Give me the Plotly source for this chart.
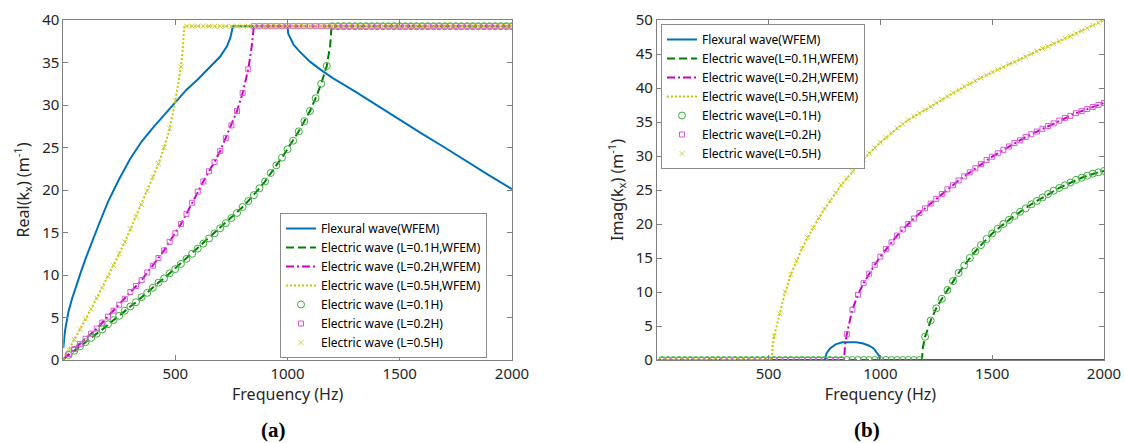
import plotly.graph_objects as go

# ---------------- data ----------------
# Flexural wave (WFEM)
f_flex = [1, 4, 8, 15, 25, 40, 60, 80, 100, 130, 160, 200, 250, 300, 350, 400, 450, 500, 550, 600,
          650, 700, 730, 745, 752, 756, 760, 775, 800, 830, 860, 890, 920, 950, 970, 985, 995, 1000,
          1003, 1015, 1027, 1050, 1100, 1150, 1200, 1300, 1400, 1500, 1600, 1700, 1800, 1900, 2000]
re_flex = [1.4, 2.4, 3.3, 4.4, 5.8, 7.2, 8.9, 10.4, 11.9, 14.0, 16.0, 18.6, 21.3, 23.7, 25.7, 27.3, 28.8, 30.4, 31.8, 33.0,
           34.3, 35.7, 36.9, 37.9, 38.7, 39.27, 39.27, 39.27, 39.27, 39.27, 39.27, 39.27, 39.27, 39.27, 39.27, 39.27, 39.27, 39.27,
           38.4, 37.7, 37.1, 36.4, 35.1, 34.1, 33.2, 31.6, 29.9, 28.3, 26.6, 25.0, 23.3, 21.7, 20.1]
im_flex = [0, 0, 0, 0, 0, 0, 0, 0, 0, 0, 0, 0, 0, 0, 0, 0, 0, 0, 0, 0,
           0, 0, 0, 0, 0, 0.6, 1.0, 1.7, 2.3, 2.6, 2.65, 2.6, 2.45, 2.1, 1.7, 1.1, 0.6, 0.0,
           0, 0, 0, 0, 0, 0, 0, 0, 0, 0, 0, 0, 0, 0, 0]

# frequency grid of the analytic results (markers)
f_mark = [25, 50, 75, 100, 125, 150, 175, 200, 225, 250, 275, 300, 325, 350, 375, 400, 425, 450, 475, 500,
          525, 550, 575, 600, 625, 650, 675, 700, 725, 750, 775, 800, 825, 850, 875, 900, 925, 950, 975, 1000,
          1025, 1050, 1075, 1100, 1125, 1150, 1175, 1200, 1225, 1250, 1275, 1300, 1325, 1350, 1375, 1400, 1425, 1450, 1475, 1500,
          1525, 1550, 1575, 1600, 1625, 1650, 1675, 1700, 1725, 1750, 1775, 1800, 1825, 1850, 1875, 1900, 1925, 1950, 1975, 2000]

P = 39.27  # Brillouin-zone edge value
# L = 0.1H
re_01 = [0.6, 1.1, 1.6, 2.1, 2.6, 3.1, 3.6, 4.2, 4.7, 5.2, 5.8, 6.3, 6.8, 7.4, 7.9, 8.5, 9.1, 9.6, 10.2, 10.7,
         11.3, 11.9, 12.5, 13.1, 13.7, 14.3, 14.9, 15.5, 16.1, 16.7, 17.3, 18.0, 18.7, 19.4, 20.2, 21.0, 22.0, 22.9, 23.8, 24.8,
         25.8, 26.9, 28.1, 29.3, 30.8, 32.5, 34.6, P, P, P, P, P, P, P, P, P, P, P, P, P,
         P, P, P, P, P, P, P, P, P, P, P, P, P, P, P, P, P, P, P, P]
im_01 = [0, 0, 0, 0, 0, 0, 0, 0, 0, 0, 0, 0, 0, 0, 0, 0, 0, 0, 0, 0,
         0, 0, 0, 0, 0, 0, 0, 0, 0, 0, 0, 0, 0, 0, 0, 0, 0, 0, 0, 0,
         0, 0, 0, 0, 0, 0, 0, 3.4, 5.8, 7.6, 9.0, 10.3, 11.6, 12.8, 13.9, 15.0, 16.0, 16.9, 17.8, 18.6,
         19.3, 20.0, 20.6, 21.2, 21.8, 22.3, 22.9, 23.4, 23.9, 24.4, 24.9, 25.3, 25.7, 26.1, 26.5, 26.8, 27.1, 27.4, 27.6, 27.8]
# L = 0.2H
re_02 = [0.7, 1.3, 1.9, 2.5, 3.1, 3.7, 4.4, 5.1, 5.8, 6.5, 7.2, 8.0, 8.7, 9.4, 10.3, 11.1, 12.0, 12.9, 13.9, 14.9,
         16.0, 17.2, 18.5, 19.8, 21.0, 22.2, 23.3, 24.6, 26.1, 27.6, 29.3, 31.4, 34.2, P, P, P, P, P, P, P,
         P, P, P, P, P, P, P, P, P, P, P, P, P, P, P, P, P, P, P, P,
         P, P, P, P, P, P, P, P, P, P, P, P, P, P, P, P, P, P, P, P]
im_02 = [0, 0, 0, 0, 0, 0, 0, 0, 0, 0, 0, 0, 0, 0, 0, 0, 0, 0, 0, 0,
         0, 0, 0, 0, 0, 0, 0, 0, 0, 0, 0, 0, 0, 3.8, 7.4, 9.6, 11.3, 12.7, 14.0, 15.2,
         16.3, 17.3, 18.3, 19.2, 20.0, 20.8, 21.6, 22.3, 23.0, 23.7, 24.4, 25.1, 25.7, 26.4, 27.0, 27.6, 28.2, 28.8, 29.4, 29.9,
         30.4, 30.9, 31.4, 31.9, 32.3, 32.8, 33.2, 33.6, 34.0, 34.4, 34.8, 35.2, 35.6, 35.9, 36.3, 36.6, 36.9, 37.2, 37.5, 37.8]
# L = 0.5H
re_05 = [1.2, 2.4, 3.6, 4.8, 6.0, 7.3, 8.5, 9.8, 11.1, 12.5, 13.9, 15.4, 16.9, 18.3, 19.9, 21.5, 23.1, 25.0, 27.2, 30.5,
         34.5, P, P, P, P, P, P, P, P, P, P, P, P, P, P, P, P, P, P, P,
         P, P, P, P, P, P, P, P, P, P, P, P, P, P, P, P, P, P, P, P,
         P, P, P, P, P, P, P, P, P, P, P, P, P, P, P, P, P, P, P, P]
im_05 = [0, 0, 0, 0, 0, 0, 0, 0, 0, 0, 0, 0, 0, 0, 0, 0, 0, 0, 0, 0,
         3.5, 6.8, 10.0, 12.6, 14.6, 16.4, 18.0, 19.5, 20.9, 22.2, 23.4, 24.6, 25.7, 26.7, 27.7, 28.6, 29.5, 30.4, 31.2, 32.0,
         32.7, 33.4, 34.1, 34.7, 35.3, 35.8, 36.3, 36.8, 37.3, 37.8, 38.3, 38.8, 39.3, 39.7, 40.2, 40.6, 41.1, 41.5, 41.9, 42.3,
         42.7, 43.1, 43.5, 43.8, 44.2, 44.6, 45.0, 45.4, 45.8, 46.1, 46.5, 46.9, 47.3, 47.6, 48.0, 48.4, 48.8, 49.2, 49.6, 50.0]

# extra WFEM points (start of curve, cut-off corners)
ex_re_01_f, ex_re_01 = [1, 1190, 1196], [0.1, 37.0, P]
ex_im_01_f, ex_im_01 = [1, 1186, 1190], [0, 0, 1.8]
ex_re_02_f, ex_re_02 = [1, 840, 848], [0.1, 36.8, P]
ex_im_02_f, ex_im_02 = [1, 838, 842], [0, 0, 2.2]
ex_re_05_f, ex_re_05 = [1, 533, 540], [0.1, 36.5, P]
ex_im_05_f, ex_im_05 = [1, 515, 518], [0, 0, 2.0]

names_l = ["Flexural wave(WFEM)", "Electric wave (L=0.1H,WFEM)", "Electric wave (L=0.2H,WFEM)",
           "Electric wave (L=0.5H,WFEM)", "Electric wave (L=0.1H)", "Electric wave (L=0.2H)", "Electric wave (L=0.5H)"]
names_r = ["Flexural wave(WFEM)", "Electric wave(L=0.1H,WFEM)", "Electric wave(L=0.2H,WFEM)",
           "Electric wave(L=0.5H,WFEM)", "Electric wave(L=0.1H)", "Electric wave(L=0.2H)", "Electric wave(L=0.5H)"]


def merge(fa, ya, fb, yb):
    pts = sorted(zip(list(fa) + list(fb), list(ya) + list(yb)))
    return [p[0] for p in pts], [p[1] for p in pts]


# ---------------- styles ----------------
C_FLEX = "#0072BD"
C_G, C_M, C_Y = "#008000", "#C800C8", "#C8C800"
CM_G, CM_M, CM_Y = "#3DAE3D", "#D65AD6", "#CFCF3A"
FONT = "Noto Sans"
AX = "#808080"
TXT = "#262626"

fig = go.Figure()

panels = [
    ("x", "y", "legend", names_l, re_flex, [(re_01, ex_re_01_f, ex_re_01), (re_02, ex_re_02_f, ex_re_02), (re_05, ex_re_05_f, ex_re_05)]),
    ("x2", "y2", "legend2", names_r, im_flex, [(im_01, ex_im_01_f, ex_im_01), (im_02, ex_im_02_f, ex_im_02), (im_05, ex_im_05_f, ex_im_05)]),
]
line_styles = [(C_G, "8px,4px"), (C_M, "8px,3px,2px,3px"), (C_Y, "2px,2px")]
marker_styles = [("circle-open", CM_G, 7), ("square-open", CM_M, 5), ("x-thin-open", CM_Y, 5)]

for xa, ya, lg, names, flex_y, series in panels:
    fig.add_trace(go.Scatter(x=f_flex, y=flex_y, mode="lines", name=names[0], xaxis=xa, yaxis=ya, legend=lg,
                             line=dict(color=C_FLEX, width=2)))
    for i, (vals, exf, exv) in enumerate(series):
        lx, ly = merge(f_mark, vals, exf, exv)
        col, dash = line_styles[i]
        fig.add_trace(go.Scatter(x=lx, y=ly, mode="lines", name=names[1 + i], xaxis=xa, yaxis=ya, legend=lg,
                                 line=dict(color=col, width=2, dash=dash)))
    for i, (vals, exf, exv) in enumerate(series):
        sym, col, sz = marker_styles[i]
        fig.add_trace(go.Scatter(x=f_mark, y=vals, mode="markers", name=names[4 + i], xaxis=xa, yaxis=ya, legend=lg,
                                 marker=dict(symbol=sym, color=col, size=sz, line=dict(color=col, width=1))))

W, H = 1125, 443
ax_common = dict(showline=True, linecolor=AX, linewidth=1, mirror="ticks", ticks="inside", ticklen=5,
                 tickcolor=AX, tickfont=dict(size=15, color=TXT, family=FONT), showgrid=False, zeroline=False,
                 automargin=False)
xdom1 = [63.3 / W, 512 / W]
xdom2 = [656.9 / W, 1104 / W]
ydom = [1 - 360 / H, 1 - 20 / H]

fig.update_layout(
    width=W, height=H, margin=dict(l=0, r=0, t=0, b=0, autoexpand=False),
    paper_bgcolor="white", plot_bgcolor="white",
    font=dict(family=FONT, color=TXT),
    xaxis=dict(domain=xdom1, range=[1, 2000], tickvals=[500, 1000, 1500, 2000], anchor="y",
               title=dict(text="Frequency (Hz)", font=dict(size=16, color=TXT), standoff=6), **ax_common),
    yaxis=dict(domain=ydom, range=[0, 40], tickvals=[0, 5, 10, 15, 20, 25, 30, 35, 40], anchor="x",
               title=dict(text="Real(k<sub>x</sub>) (m<sup>-1</sup>)", font=dict(size=16, color=TXT), standoff=8), **ax_common),
    xaxis2=dict(domain=xdom2, range=[1, 2000], tickvals=[500, 1000, 1500, 2000], anchor="y2",
                title=dict(text="Frequency (Hz)", font=dict(size=16, color=TXT), standoff=6), **ax_common),
    yaxis2=dict(domain=ydom, range=[0, 50], tickvals=[0, 5, 10, 15, 20, 25, 30, 35, 40, 45, 50], anchor="x2",
                title=dict(text="Imag(k<sub>x</sub>) (m<sup>-1</sup>)", font=dict(size=16, color=TXT), standoff=8), **ax_common),
    legend=dict(x=280 / W, y=1 - 213 / H, xanchor="left", yanchor="top", bgcolor="white",
                bordercolor="#8c8c8c", borderwidth=1, font=dict(size=12, color="#000", family=FONT),
                itemwidth=30, tracegroupgap=0),
    legend2=dict(x=661 / W, y=1 - 24 / H, xanchor="left", yanchor="top", bgcolor="white",
                 bordercolor="#8c8c8c", borderwidth=1, font=dict(size=12, color="#000", family=FONT),
                 itemwidth=30, tracegroupgap=0),
    annotations=[
        dict(text="<b>(a)</b>", x=273 / W, y=1 - 430 / H, xref="paper", yref="paper", showarrow=False,
             xanchor="center", yanchor="middle", font=dict(family="Liberation Serif", size=21, color="#000")),
        dict(text="<b>(b)</b>", x=867 / W, y=1 - 430 / H, xref="paper", yref="paper", showarrow=False,
             xanchor="center", yanchor="middle", font=dict(family="Liberation Serif", size=21, color="#000")),
    ],
)

fig.write_html("out.html")
